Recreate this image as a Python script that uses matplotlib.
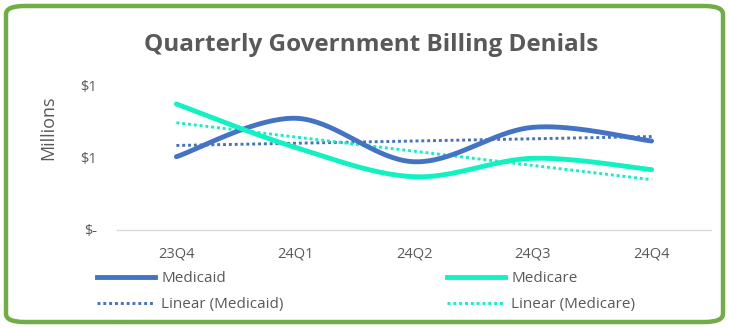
import numpy as np
import matplotlib
matplotlib.use("Agg")
import matplotlib.pyplot as plt
from matplotlib.patches import FancyBboxPatch
from matplotlib.lines import Line2D

quarters = ["23Q4", "24Q1", "24Q2", "24Q3", "24Q4"]
medicaid = [0.509, 0.776, 0.474, 0.713, 0.618]
medicare = [0.875, 0.574, 0.370, 0.498, 0.419]
ytick_vals = [0.0, 0.5, 1.0]
ytick_labels = ["$-", "$1", "$1"]

BLUE = "#4472C4"
AQUA = "#10F2C2"
GREY = "#595959"
FONT = "Open Sans"

plt.rcParams["font.family"] = [FONT, "DejaVu Sans"]


def smooth(xs, ys, n=40):
    xs = np.asarray(xs, float)
    ys = np.asarray(ys, float)
    P = np.column_stack([xs, ys])
    out = []
    for i in range(len(P) - 1):
        p0 = P[i - 1] if i > 0 else P[i]
        p1 = P[i]
        p2 = P[i + 1]
        p3 = P[i + 2] if i + 2 < len(P) else P[i + 1]
        c1 = p1 + (p2 - p0) / 6.0
        c2 = p2 - (p3 - p1) / 6.0
        t = np.linspace(0, 1, n)[:, None]
        seg = ((1 - t) ** 3) * p1 + 3 * ((1 - t) ** 2) * t * c1 + 3 * (1 - t) * t ** 2 * c2 + t ** 3 * p2
        out.append(seg if i == 0 else seg[1:])
    seg = np.vstack(out)
    return seg[:, 0], seg[:, 1]


W, H = 729, 328
fig = plt.figure(figsize=(W / 100, H / 100), dpi=100)
fig.patch.set_facecolor("white")

border = FancyBboxPatch((6 / W, 6 / H), (W - 12) / W, (H - 12) / H,
                        boxstyle="round,pad=0,rounding_size=0.025",
                        transform=fig.transFigure, facecolor="none",
                        edgecolor="#70AD47", linewidth=3.2, zorder=5)
fig.patches.append(border)

left, right = 117 / W, 711 / W
bottom, top = (H - 230) / H, (H - 86) / H
ax = fig.add_axes([left, bottom, right - left, top - bottom])
ax.set_facecolor("none")

SOLID_LW = 3.5
DOT_LW = 2.1
DOT = (0, (1, 1))

x = np.arange(len(quarters))
sx, sy = smooth(x, medicaid)
ax.plot(sx, sy, color=BLUE, lw=SOLID_LW, solid_capstyle="round", zorder=3)
sx, sy = smooth(x, medicare)
ax.plot(sx, sy, color=AQUA, lw=SOLID_LW, solid_capstyle="round", zorder=3)

for vals, col in [(medicaid, BLUE), (medicare, AQUA)]:
    m, b = np.polyfit(x, vals, 1)
    ax.plot(x, m * x + b, color=col, lw=DOT_LW, linestyle=DOT, zorder=2)

ax.set_xlim(-0.5, len(quarters) - 0.5)
ax.set_ylim(0, 1.0)
ax.set_xticks(x)
ax.set_xticklabels(quarters)
ax.set_yticks(ytick_vals)
ax.set_yticklabels(ytick_labels)
ax.tick_params(axis="both", length=0, colors=GREY, labelsize=10.5)
ax.tick_params(axis="x", pad=12)
ax.tick_params(axis="y", pad=14.5, labelsize=10.5)
for s in ["top", "right", "left"]:
    ax.spines[s].set_visible(False)
ax.spines["bottom"].set_color("#D9D9D9")
ax.spines["bottom"].set_linewidth(1.0)

fig.text(48 / W, (H - 127.5) / H, "Millions", rotation=90, ha="center", va="center",
         color=GREY, fontsize=13)
fig.text(371 / W, (H - 51) / H, "Quarterly Government Billing Denials", ha="center",
         va="baseline", color=GREY, fontsize=17.5, fontweight="bold")

handles = [
    Line2D([], [], color=BLUE, lw=SOLID_LW),
    Line2D([], [], color=BLUE, lw=DOT_LW, linestyle=DOT),
    Line2D([], [], color=AQUA, lw=SOLID_LW),
    Line2D([], [], color=AQUA, lw=DOT_LW, linestyle=DOT),
]
labels = ["Medicaid", "Linear (Medicaid)", "Medicare", "Linear (Medicare)"]
fig.legend(handles, labels, ncol=2, loc="upper left", bbox_to_anchor=(97 / W, (H - 271) / H),
           frameon=False, fontsize=11, handlelength=3.8, handletextpad=0.4,
           columnspacing=10.7, labelspacing=0.75, labelcolor=GREY, borderaxespad=0,
           borderpad=0)

fig.savefig("out.png", dpi=100)
